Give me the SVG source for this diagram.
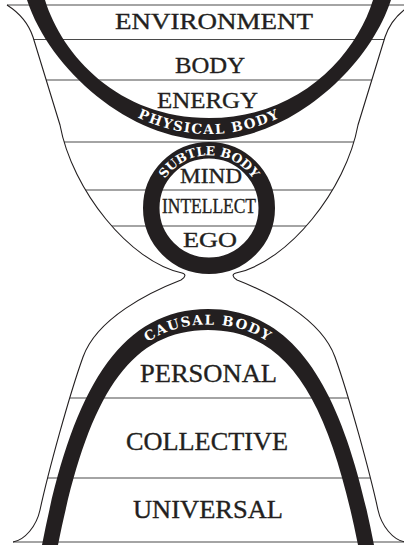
<svg xmlns="http://www.w3.org/2000/svg" width="404" height="545" viewBox="0 0 404 545">
<style>
.outline{fill:none;stroke:#231f20;stroke-width:1.1}
.rule{stroke:#4a4a4a;stroke-width:1.2;fill:none}
.band{fill:#231f20}
.label{font-family:"Liberation Serif","Times New Roman",serif;fill:#231f20;stroke:#231f20;stroke-width:0.35}
.bandtext{font-family:"DejaVu Serif","Liberation Serif",serif;font-weight:bold;fill:#ffffff}
</style>
<defs>
<clipPath id="inside">
<path d="M7,5 C18,12 28,22 33,37 L60,125 C72,190 130,262 182,273 C186,274 186,277 181,280 C150,292 97,318 83,357 C69,396 48.4,471.6 40,510 C36.5,526 25,540 13,542 L405,542 C393,540 381.5,526 378,510 C369.6,471.6 349,396 335,357 C321,318 268,292 237,280 C232,277 232,274 236,273 C288,262 346,190 358,125 L385,37 C390,22 400,12 411,5 Z"/>
</clipPath>
<path id="physPath" d="M32,0 C53,67 127,134 209,134 C291,134 365,67 386,0"/>
<path id="subtlePath" d="M156.25,208 A52.75,52.75 0 1 1 261.75,208 A52.75,52.75 0 1 1 156.25,208"/>
<path id="causalPath" d="M55,545 C83,404 123,324.5 208,324.5 C293,324.5 333,404 361,545"/>
</defs>

<g id="rules">
<path class="rule" d="M7,5 H404"/>
<path class="rule" d="M13,542 H404"/>
<g clip-path="url(#inside)">
<path class="rule" d="M0,39.5 H404 M0,80 H404 M0,142 H404 M0,190 H404 M0,226 H404 M0,398 H404 M0,478 H404"/>
</g>
</g>

<g id="outline">
<path class="outline" d="M7,5 C18,12 28,22 33,37 L60,125 C72,190 130,262 182,273 C186,274 186,277 181,280 C150,292 97,318 83,357 C69,396 48.4,471.6 40,510 C36.5,526 25,540 13,542"/>
<path class="outline" d="M411,5 C400,12 390,22 385,37 L358,125 C346,190 288,262 236,273 C232,274 232,277 237,280 C268,292 321,318 335,357 C349,396 369.6,471.6 378,510 C381.5,526 393,540 405,542"/>
</g>

<g id="physical-body">
<path class="band" d="M27,0 C50,70 130,140 209,140 C288,140 368,70 391,0 L373,0 C356,55 300,118 209,118 C118,118 62,55 45,0 Z"/>
<text class="bandtext" font-size="13.5" letter-spacing="1.5"><textPath href="#physPath" startOffset="50%" text-anchor="middle">PHYSICAL BODY</textPath></text>
</g>

<g id="subtle-body">
<circle cx="209" cy="208" r="57.75" fill="none" stroke="#231f20" stroke-width="16.5"/>
<text class="bandtext" font-size="12.5" letter-spacing="0"><textPath href="#subtlePath" startOffset="25%" text-anchor="middle">SUBTLE BODY</textPath></text>
</g>

<g id="causal-body">
<path class="band" d="M42,545 C70,400 115,309 208,309 C301,309 346,400 374,545 L358,545 C330,405 291,330 208,330 C125,330 86,405 58,545 Z"/>
<text class="bandtext" font-size="13.5" letter-spacing="1.4"><textPath href="#causalPath" startOffset="50%" text-anchor="middle">CAUSAL BODY</textPath></text>
</g>

<g id="labels">
<g id="environment"><text class="label" x="115" y="29" font-size="23" textLength="198" lengthAdjust="spacingAndGlyphs">ENVIRONMENT</text></g>
<g id="body"><text class="label" x="175" y="72.5" font-size="24" textLength="70" lengthAdjust="spacingAndGlyphs">BODY</text></g>
<g id="energy"><text class="label" x="157" y="108" font-size="24" textLength="101" lengthAdjust="spacingAndGlyphs">ENERGY</text></g>
<g id="mind"><text class="label" x="180" y="183" font-size="22" textLength="62" lengthAdjust="spacingAndGlyphs">MIND</text></g>
<g id="intellect"><text class="label" x="162" y="213" font-size="21" textLength="94" lengthAdjust="spacingAndGlyphs">INTELLECT</text></g>
<g id="ego"><text class="label" x="183" y="247" font-size="21" textLength="54" lengthAdjust="spacingAndGlyphs">EGO</text></g>
<g id="personal"><text class="label" x="140" y="382" font-size="25.5" textLength="137" lengthAdjust="spacingAndGlyphs">PERSONAL</text></g>
<g id="collective"><text class="label" x="126" y="450" font-size="25.5" textLength="162" lengthAdjust="spacingAndGlyphs">COLLECTIVE</text></g>
<g id="universal"><text class="label" x="133" y="518" font-size="25" textLength="150" lengthAdjust="spacingAndGlyphs">UNIVERSAL</text></g>
</g>
</svg>
